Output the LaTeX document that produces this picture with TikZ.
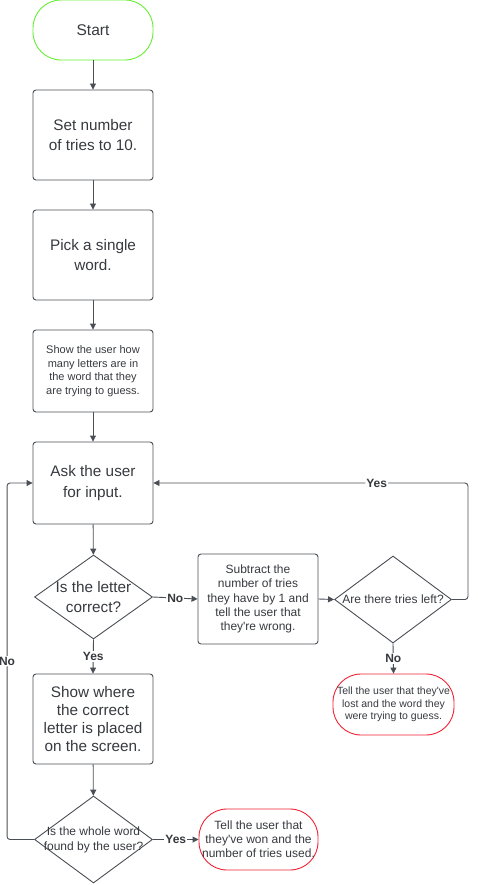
\documentclass[tikz,border=0pt]{standalone}
\usepackage{fontspec}
\setmainfont{Liberation Sans}[Ligatures=TeXOff]
\usetikzlibrary{shapes.geometric,arrows.meta,positioning}
\definecolor{edgegrey}{HTML}{4A4E55}
\definecolor{inkgrey}{HTML}{36393E}
\definecolor{startgreen}{HTML}{66EE33}
\definecolor{endred}{HTML}{EE2233}
\newcommand{\fsz}[2]{\fontsize{#1}{#2}\selectfont}

\begin{document}
\begin{tikzpicture}[x=1pt,y=-1pt,line width=0.9pt,
        box/.style={draw=edgegrey,rounded corners=3pt,minimum width=120pt,minimum height=90pt,inner sep=0pt,align=center,text=inkgrey},
        term/.style={draw,rounded corners=28pt,minimum width=120pt,minimum height=61pt,inner sep=0pt,align=center,text=inkgrey},
        decision/.style={diamond,draw=edgegrey,minimum width=118pt,minimum height=86pt,inner sep=0pt},
        dtext/.style={align=center,text=inkgrey,inner sep=0pt},
        flow/.style={draw=edgegrey,-{Triangle[length=6pt,width=6pt]}},
        yn/.style={font=\bfseries\fsz{12}{14},text=inkgrey,fill=white,inner sep=1pt}]
        \useasboundingbox (0,0) rectangle (478,885);
        \node[term,draw=startgreen,minimum height=60pt,font=\fsz{15.5}{19}] (start) at (93,30) {Start};
        \node[box,font=\fsz{15.3}{20.5}] (tries) at (93,135) {Set number\\of tries to 10.};
        \node[box,font=\fsz{15.3}{20.5}] (pick) at (93,255) {Pick a single\\word.};
        \node[box,minimum height=82pt,font=\fsz{11}{13.5}] (show) at (93,371) {Show the user how\\many letters are in\\the word that they\\are trying to guess.};
        \node[box,minimum height=82pt,font=\fsz{15.3}{20.5}] (ask) at (93,483) {Ask the user\\for input.};
        \node[decision,minimum height=84pt,label={[dtext,font=\fsz{15.3}{20}]center:Is the letter\\correct?}] (letter) at (93.5,597) {};
        \node[box,font=\fsz{12}{14.3}] (subtract) at (258,599) {Subtract the\\number of tries\\they have by 1 and\\tell the user that\\they're wrong.};
        \node[decision,minimum width=117pt,minimum height=87pt,label={[dtext,font=\fsz{12}{14}]center:Are there tries left?}] (left) at (393,599.5) {};
        \node[term,draw=endred,minimum width=121pt,font=\fsz{10.5}{12.5}] (lost) at (393.5,704.5) {Tell the user that they've\\lost and the word they\\were trying to guess.};
        \node[box,font=\fsz{15.3}{18.2}] (where) at (93,719) {Show where\\the correct\\letter is placed\\on the screen.};
        \node[decision,minimum height=87pt,label={[dtext,font=\fsz{12}{15}]center:Is the whole word\\found by the user?}] (whole) at (93.5,839.5) {};
        \node[term,draw=endred,minimum width=119pt,font=\fsz{12}{14}] (won) at (258.5,839.5) {Tell the user that\\they've won and the\\number of tries used.};
        \draw[flow] (start) -- (tries);
        \draw[flow] (tries) -- (pick);
        \draw[flow] (pick) -- (show);
        \draw[flow] (show) -- (ask);
        \draw[flow] (ask) -- (letter);
        \draw[flow] (letter.east) -- node[yn] {No} (subtract.west);
        \draw[flow] (letter.south) -- node[yn,pos=0.5] {Yes} (where.north);
        \draw[flow] (subtract.east) -- (left.west);
        \draw[flow] (left.south) -- node[yn,pos=0.5] {No} (lost.north);
        \draw[flow,rounded corners=3pt] (left.east) -- ++(16,0) |- node[yn,pos=0.645] {Yes} (ask.east);
        \draw[flow] (where) -- (whole);
        \draw[flow] (whole.east) -- node[yn] {Yes} (won.west);
        \draw[flow,rounded corners=3pt] (whole.west) -- ++(-27,0) |- node[yn,pos=0.25] {No} (ask.west);
\end{tikzpicture}
\end{document}
